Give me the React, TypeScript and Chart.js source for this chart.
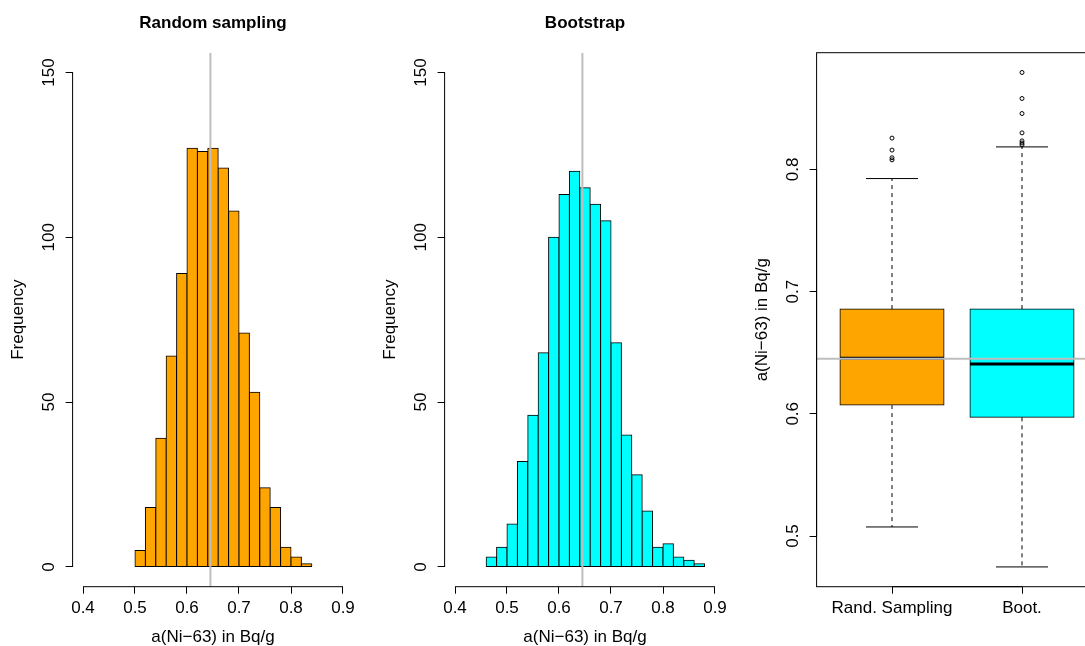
import React, { useEffect, useRef } from "react";
import { Chart, registerables } from "chart.js";

Chart.register(...registerables);

const FONT = "'Liberation Sans', Arial, Helvetica, sans-serif";
Chart.defaults.font.family = FONT;
Chart.defaults.color = "#000";

// ---------------- data ----------------
// Histogram 1: Random sampling (bin mid-points, counts)
const randBinMids = [0.51, 0.53, 0.55, 0.57, 0.59, 0.61, 0.63, 0.65, 0.67, 0.69, 0.71, 0.73, 0.75, 0.77, 0.79, 0.81, 0.83];
const randCounts = [5, 18, 39, 64, 89, 127, 126, 127, 121, 108, 71, 53, 24, 18, 6, 3, 1];

// Histogram 2: Bootstrap
const bootBinMids = [0.47, 0.49, 0.51, 0.53, 0.55, 0.57, 0.59, 0.61, 0.63, 0.65, 0.67, 0.69, 0.71, 0.73, 0.75, 0.77, 0.79, 0.81, 0.83, 0.85, 0.87];
const bootCounts = [3, 6, 13, 32, 46, 65, 100, 113, 120, 115, 110, 105, 68, 40, 28, 17, 6, 7, 3, 2, 1];
const binWidth = 0.02;

// reference value (grey line)
const refValue = 0.645;

// histogram axes
const histXLim = [0.4, 0.9];
const histYLim = [0, 150];
const histXTicks = [0.4, 0.5, 0.6, 0.7, 0.8, 0.9];
const histXTickLabels = ["0.4", "0.5", "0.6", "0.7", "0.8", "0.9"];
const histYTicks = [0, 50, 100, 150];
const histYTickLabels = ["0", "50", "100", "150"];

// boxplot
const boxNames = ["Rand. Sampling", "Boot."];
const boxColors = ["#FFA500", "#00FFFF"];
const boxLowerWhisker = [0.5074, 0.4747];
const boxQ1 = [0.6071, 0.5971];
const boxMedian = [0.6455, 0.6407];
const boxQ3 = [0.6857, 0.6857];
const boxUpperWhisker = [0.7925, 0.8184];
const randOutliers = [0.8256, 0.8158, 0.8095, 0.8078];
const bootOutliers = [0.8793, 0.858, 0.8457, 0.8299, 0.8233, 0.8216, 0.8201];
const boxYTicks = [0.5, 0.6, 0.7, 0.8];
const boxYTickLabels = ["0.5", "0.6", "0.7", "0.8"];

const titles = ["Random sampling", "Bootstrap"];
const xLabel = "a(Ni\u221263) in Bq/g";
const yLabelHist = "Frequency";

// ---------------- layout ----------------
const PANEL_W = 372;
const H = 646;
const PLOT_LEFT = 72.6;
const PLOT_RIGHT = 353.4;
const PLOT_TOP = 52.7;
const PLOT_BOTTOM = 586.7;
const TICK_LEN = 7;
const FS = 17;

const ext = (lo: number, hi: number) => [lo - 0.04 * (hi - lo), hi + 0.04 * (hi - lo)];

function textWidth(t: string) {
  const c = document.createElement("canvas").getContext("2d")!;
  c.font = `normal ${FS}px ${FONT}`;
  return c.measureText(t).width;
}

function yTickPad(labels: string[]) {
  const w = Math.max(...labels.map(textWidth));
  return PLOT_LEFT - TICK_LEN - 49.2 - w / 2;
}

const rAxesPlugin = {
  id: "rAxes",
  afterDatasetsDraw(chart: any, _a: any, opts: any) {
    const { ctx, chartArea } = chart;
    const xs = chart.scales.x;
    const ys = chart.scales.y;
    const xt = opts.xTicks as number[];
    const yt = opts.yTicks as number[];
    ctx.save();
    ctx.strokeStyle = "#000";
    ctx.lineWidth = 1;
    ctx.beginPath();
    ctx.moveTo(xs.getPixelForValue(xt[0]), chartArea.bottom);
    ctx.lineTo(xs.getPixelForValue(xt[xt.length - 1]), chartArea.bottom);
    ctx.moveTo(chartArea.left, ys.getPixelForValue(yt[0]));
    ctx.lineTo(chartArea.left, ys.getPixelForValue(yt[yt.length - 1]));
    ctx.stroke();
    if (opts.frame) {
      ctx.strokeRect(chartArea.left, chartArea.top, chartArea.right - chartArea.left, chartArea.bottom - chartArea.top);
    }
    ctx.restore();
  },
};

function xScale(min: number, max: number, ticks: number[], labels: string[], title: string | null) {
  return {
    type: "linear",
    position: "bottom",
    min,
    max,
    offset: false,
    afterBuildTicks: (s: any) => {
      s.ticks = ticks.map((v) => ({ value: v }));
    },
    afterFit: (s: any) => {
      s.height = H - PLOT_BOTTOM;
    },
    ticks: {
      callback: (_v: any, i: number) => labels[i],
      font: { size: FS, lineHeight: 1 },
      padding: 608.5 - PLOT_BOTTOM - TICK_LEN - FS / 2,
      autoSkip: false,
      maxRotation: 0,
      minRotation: 0,
      color: "#000",
    },
    grid: { drawOnChartArea: false, drawTicks: true, tickLength: TICK_LEN, color: "#000", lineWidth: 1, offset: false },
    border: { display: false },
    title: {
      display: !!title,
      text: title || "",
      font: { size: FS, lineHeight: 1 },
      padding: { top: 0, bottom: 0.5 },
      color: "#000",
    },
  };
}

function yScale(min: number, max: number, ticks: number[], labels: string[], title: string) {
  return {
    type: "linear",
    position: "left",
    min,
    max,
    afterBuildTicks: (s: any) => {
      s.ticks = ticks.map((v) => ({ value: v }));
    },
    afterFit: (s: any) => {
      s.width = PLOT_LEFT;
    },
    ticks: {
      callback: (_v: any, i: number) => labels[i],
      font: { size: FS },
      minRotation: 90,
      maxRotation: 90,
      crossAlign: "center",
      padding: yTickPad(labels),
      autoSkip: false,
      color: "#000",
    },
    grid: { drawOnChartArea: false, drawTicks: true, tickLength: TICK_LEN, color: "#000", lineWidth: 1 },
    border: { display: false },
    title: {
      display: true,
      text: title,
      font: { size: FS, lineHeight: 1 },
      padding: { top: 18.4 - FS / 2, bottom: 0 },
      color: "#000",
    },
  };
}

function makeHist(title: string, mids: number[], counts: number[], color: string): any {
  const [xMin, xMax] = ext(histXLim[0], histXLim[1]);
  const [yMin, yMax] = ext(histYLim[0], histYLim[1]);
  return {
    type: "bar",
    data: {
      datasets: [
        {
          type: "line",
          xAxisID: "x",
          yAxisID: "y",
          data: [
            { x: refValue, y: yMin },
            { x: refValue, y: yMax },
          ],
          borderColor: "#BEBEBE",
          borderWidth: 2,
          pointRadius: 0,
          fill: false,
          order: 0,
        },
        {
          type: "bar",
          xAxisID: "x",
          yAxisID: "y",
          data: mids.map((m, i) => ({ x: m, y: counts[i] })),
          backgroundColor: color,
          borderColor: "#000",
          borderWidth: 1,
          borderSkipped: false,
          inflateAmount: 0.5,
          barPercentage: 1,
          categoryPercentage: 1,
          order: 1,
        },
      ],
    },
    options: {
      animation: false,
      responsive: false,
      events: [],
      layout: { padding: { left: 0, top: 0, right: PANEL_W - PLOT_RIGHT, bottom: 0 } },
      plugins: {
        legend: { display: false },
        tooltip: { enabled: false },
        rAxes: { xTicks: histXTicks, yTicks: histYTicks, frame: false },
      },
      scales: {
        x: xScale(xMin, xMax, histXTicks, histXTickLabels, xLabel),
        top: {
          type: "linear",
          axis: "x",
          position: "top",
          min: xMin,
          max: xMax,
          offset: false,
          ticks: { display: false },
          grid: { display: false, offset: false },
          border: { display: false },
          afterFit: (s: any) => {
            s.height = PLOT_TOP;
          },
          title: {
            display: true,
            text: title,
            font: { size: FS, weight: "bold", lineHeight: 1 },
            padding: { top: 23.7 - FS / 2, bottom: 0 },
            color: "#000",
          },
        },
        y: yScale(yMin, yMax, histYTicks, histYTickLabels, yLabelHist),
      },
    },
    plugins: [rAxesPlugin],
  };
}

function makeBox(): any {
  const positions = boxNames.map((_, i) => i + 1);
  const [xMin, xMax] = ext(0.5, boxNames.length + 0.5);
  const allVals = [...boxLowerWhisker, ...boxUpperWhisker, ...randOutliers, ...bootOutliers];
  const [yMin, yMax] = ext(Math.min(...allVals), Math.max(...allVals));
  const outliers = [randOutliers, bootOutliers];
  const seg = (pts: { x: number; y: number }[], extra: any) => ({
    type: "line",
    xAxisID: "x",
    yAxisID: "y",
    data: pts,
    borderColor: "#000",
    borderWidth: 1,
    pointRadius: 0,
    fill: false,
    borderCapStyle: "butt",
    ...extra,
  });
  const datasets: any[] = [];
  datasets.push({
    type: "bar",
    xAxisID: "x",
    yAxisID: "y",
    data: positions.map((p, i) => ({ x: p, y: [boxQ1[i], boxQ3[i]] })),
    backgroundColor: boxColors,
    borderColor: "#000",
    borderWidth: 1,
    borderSkipped: false,
    inflateAmount: 0.5,
    barPercentage: 0.8,
    categoryPercentage: 1,
    order: 10,
  });
  positions.forEach((p, i) => {
    datasets.push(seg([{ x: p, y: boxQ3[i] }, { x: p, y: boxUpperWhisker[i] }], { borderDash: [4, 4], order: 8 }));
    datasets.push(seg([{ x: p, y: boxQ1[i] }, { x: p, y: boxLowerWhisker[i] }], { borderDash: [4, 4], order: 8 }));
    datasets.push(seg([{ x: p - 0.2, y: boxUpperWhisker[i] }, { x: p + 0.2, y: boxUpperWhisker[i] }], { order: 7 }));
    datasets.push(seg([{ x: p - 0.2, y: boxLowerWhisker[i] }, { x: p + 0.2, y: boxLowerWhisker[i] }], { order: 7 }));
    datasets.push(seg([{ x: p - 0.4, y: boxMedian[i] }, { x: p + 0.4, y: boxMedian[i] }], { borderWidth: 3, order: 6 }));
    datasets.push({
      type: "line",
      xAxisID: "x",
      yAxisID: "y",
      data: outliers[i].map((v) => ({ x: p, y: v })),
      showLine: false,
      pointRadius: 2,
      pointStyle: "circle",
      pointBorderColor: "#000",
      pointBackgroundColor: "rgba(0,0,0,0)",
      pointBorderWidth: 1,
      order: 5,
    });
  });
  datasets.push(
    seg([{ x: xMin, y: refValue }, { x: xMax, y: refValue }], { borderColor: "#BEBEBE", borderWidth: 2, order: 0 })
  );
  return {
    type: "bar",
    data: { datasets },
    options: {
      animation: false,
      responsive: false,
      events: [],
      layout: { padding: { left: 0, top: PLOT_TOP, right: PANEL_W - PLOT_RIGHT, bottom: 0 } },
      plugins: {
        legend: { display: false },
        tooltip: { enabled: false },
        rAxes: { xTicks: positions, yTicks: boxYTicks, frame: true },
      },
      scales: {
        x: xScale(xMin, xMax, positions, boxNames, null),
        y: yScale(yMin, yMax, boxYTicks, boxYTickLabels, xLabel),
      },
    },
    plugins: [rAxesPlugin],
  };
}

function ChartPanel({ left, make }: { left: number; make: () => any }) {
  const ref = useRef<HTMLCanvasElement | null>(null);
  useEffect(() => {
    const chart = new Chart(ref.current as HTMLCanvasElement, make());
    return () => chart.destroy();
  }, []);
  return (
    <canvas
      ref={ref}
      width={PANEL_W}
      height={H}
      style={{ position: "absolute", left, top: 0, width: PANEL_W, height: H }}
    />
  );
}

export default function App() {
  return (
    <div
      style={{
        position: "fixed",
        left: 0,
        top: 0,
        width: 1085,
        height: H,
        overflow: "hidden",
        background: "#fff",
      }}
    >
      <ChartPanel left={0} make={() => makeHist(titles[0], randBinMids, randCounts, "#FFA500")} />
      <ChartPanel left={PANEL_W} make={() => makeHist(titles[1], bootBinMids, bootCounts, "#00FFFF")} />
      <ChartPanel left={PANEL_W * 2} make={makeBox} />
    </div>
  );
}
